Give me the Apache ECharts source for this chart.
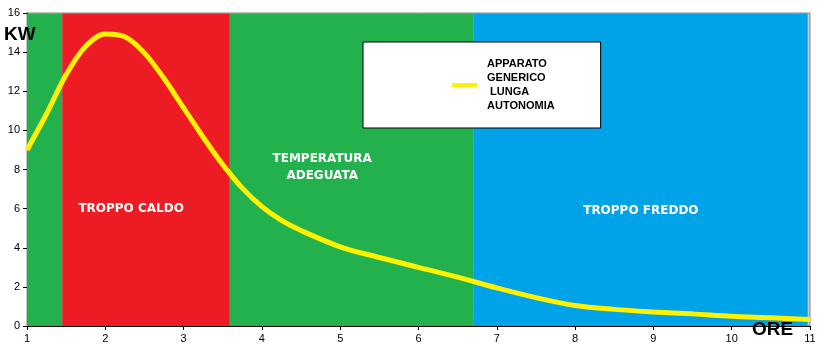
<!DOCTYPE html>
<html><head><meta charset="utf-8">
<script src="https://cdn.jsdelivr.net/npm/echarts@6/dist/echarts.min.js"></script>
<style>html,body{margin:0;padding:0;background:#fff}#c{width:831px;height:352px}</style>
</head><body><div id="c"></div>
<script>
var hours = [1, 1.25, 1.5, 1.75, 2, 2.25, 2.5, 2.75, 3, 3.25, 3.5, 3.75, 4, 4.25, 4.5, 5, 5.5, 6, 6.5, 7, 7.5, 8, 8.5, 9, 9.5, 10, 10.5, 11];
var kw =    [9.0, 10.85, 12.85, 14.3, 14.93, 14.78, 13.95, 12.65, 11.15, 9.65, 8.25, 7.05, 6.1, 5.4, 4.88, 4.05, 3.5, 3.0, 2.5, 1.95, 1.45, 1.05, 0.85, 0.72, 0.62, 0.5, 0.42, 0.33];
var seriesName = 'APPARATO\nGENERICO\n LUNGA\nAUTONOMIA';
var zoneFrom = [1, 1.45, 3.59, 6.7];
var zoneTo = [1.45, 3.59, 6.7, 10.97];
var zoneColors = ['#22B14C', '#ED1C24', '#22B14C', '#00A2E8'];
var zoneLabels = ['TROPPO CALDO', 'TEMPERATURA\nADEGUATA', 'TROPPO FREDDO'];
var zoneLabelX = [2.33, 4.77, 8.84];
var zoneLabelY = [6.0, 8.1, 5.9];
var dividerX = [1.45, 3.59];
var dividerColors = ['#ED1C24', '#22B14C'];

var chart = echarts.init(document.getElementById('c'));
var areas = zoneFrom.map(function (f, i) {
  return [{xAxis: f, yAxis: 0, itemStyle: {color: zoneColors[i], opacity: 1}}, {xAxis: zoneTo[i], yAxis: 15.97}];
});
var dividers = dividerX.map(function (x, i) {
  return [{coord: [x, -0.2], lineStyle: {color: dividerColors[i], width: 1, type: 'solid'}}, {coord: [x, 16.2]}];
});
var labelPts = zoneLabels.map(function (t, i) {
  return {coord: [zoneLabelX[i], zoneLabelY[i]], value: t};
});
chart.setOption({
  animation: false,
  textStyle: {fontFamily: 'Liberation Sans'},
  title: [
    {text: 'KW', left: 4, top: 25, padding: 0, textStyle: {fontSize: 19, fontWeight: 'bold', color: '#000', fontFamily: 'Liberation Sans'}},
    {text: 'ORE', left: 752, top: 320, padding: 0, textStyle: {fontSize: 19, fontWeight: 'bold', color: '#000', fontFamily: 'Liberation Sans'}}
  ],
  grid: {left: 27, right: 21, top: 13, bottom: 26, show: true, borderColor: '#888', borderWidth: 1, backgroundColor: '#c8c8c8'},
  legend: {
    left: 363, top: 42, orient: 'vertical',
    backgroundColor: '#fff', borderColor: '#000', borderWidth: 1,
    padding: [15, 46, 15, 89],
    icon: 'rect', itemWidth: 25, itemHeight: 4,
    textStyle: {fontSize: 11, fontWeight: 'bold', color: '#000', lineHeight: 14, padding: [0, 0, 0, 5], fontFamily: 'Liberation Sans'},
    data: [seriesName]
  },
  xAxis: {
    type: 'value', min: 1, max: 11, interval: 1,
    axisLine: {lineStyle: {color: '#000', width: 1}},
    axisTick: {show: true, length: 4, lineStyle: {color: '#000'}},
    axisLabel: {color: '#000', fontSize: 11, margin: 7},
    splitLine: {show: false}
  },
  yAxis: {
    type: 'value', min: 0, max: 16, interval: 2,
    axisLine: {show: true, lineStyle: {color: '#000', width: 1}},
    axisTick: {show: true, length: 4, lineStyle: {color: '#000'}},
    axisLabel: {color: '#000', fontSize: 11, margin: 7},
    splitLine: {show: false}
  },
  series: [
    {
      type: 'line', name: 'zones', data: [[1, 0]], symbol: 'none', lineStyle: {opacity: 0}, clip: false, silent: true,
      markArea: {silent: true, data: areas},
      markLine: {silent: true, symbol: ['none', 'none'], label: {show: false}, data: dividers},
      markPoint: {
        symbol: 'circle', symbolSize: 0, silent: true,
        label: {show: true, position: 'inside', formatter: function (p) { return p.value; }, color: '#fff', fontSize: 12, fontWeight: 'bold', fontFamily: 'DejaVu Sans', lineHeight: 17, align: 'center'},
        data: labelPts
      }
    },
    {
      type: 'line', name: seriesName, smooth: 0.35, symbol: 'none',
      lineStyle: {color: '#FFF200', width: 5},
      itemStyle: {color: '#FFF200'},
      data: hours.map(function (h, i) { return [h, kw[i]]; }),
      z: 5
    }
  ]
});
</script></body></html>
